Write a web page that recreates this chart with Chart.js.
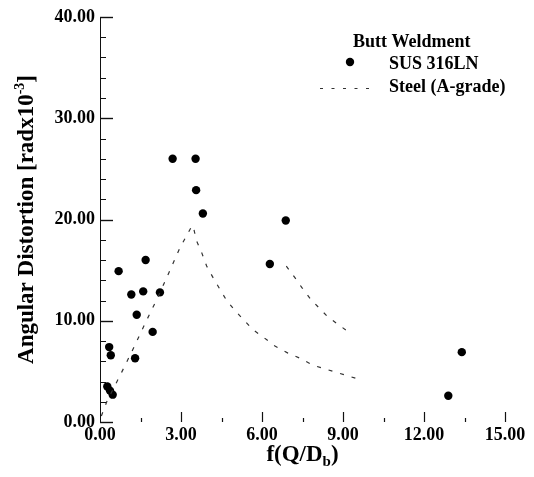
<!DOCTYPE html>
<html>
<head>
<meta charset="utf-8">
<script src="https://cdn.jsdelivr.net/npm/chart.js@4/dist/chart.umd.min.js"></script>
<style>
  html, body { margin: 0; padding: 0; background: #fff; }
  #wrap { width: 534px; height: 477px; }
</style>
</head>
<body>
<div id="wrap"><canvas id="c" width="534" height="477"></canvas></div>
<script>
var susX = [2.69, 3.54, 3.56, 3.81, 6.88, 1.69, 0.69, 6.29, 1.16, 1.60, 2.22, 1.36, 1.95, 0.34, 0.40, 1.30, 0.27, 0.37, 0.47, 13.4, 12.9];
var susY = [26.0, 26.0, 22.9, 20.6, 19.9, 16.0, 14.9, 15.6, 12.6, 12.9, 12.8, 10.6, 8.9, 7.4, 6.6, 6.3, 3.5, 3.1, 2.7, 6.9, 2.6];

// Steel (A-grade) curves
var steel1X = [0.05, 0.25, 0.80, 1.26, 1.70, 2.14, 2.56, 2.96, 3.37, 3.45, 3.56, 3.77, 3.95, 4.22, 4.69, 5.00, 5.67, 6.04, 6.48, 6.96, 7.41, 7.89, 9.74];
var steel1Y = [0.6, 2.0, 4.9, 7.4, 9.9, 12.3, 14.8, 17.2, 19.2, 19.4, 18.0, 16.7, 15.4, 14.1, 12.0, 11.0, 9.1, 8.4, 7.5, 6.8, 6.3, 5.6, 4.1];
var steel2X = [6.90, 7.26, 7.47, 7.81, 8.43, 8.89, 9.15];
var steel2Y = [15.4, 14.1, 13.3, 12.1, 10.4, 9.5, 9.0];

var xTickLabels = [0, 3, 6, 9, 12, 15];
var yTickLabels = [0, 10, 20, 30, 40];

var serif = "'Liberation Serif', 'DejaVu Serif', serif";

function pts(xs, ys) {
    return xs.map(function (x, i) { return { x: x, y: ys[i] }; });
}

// axes, inner ticks, titles and legend
var decorPlugin = {
    id: 'decor',
    afterDraw: function (chart) {
        var ctx = chart.ctx;
        var xs = chart.scales.x, ys = chart.scales.y;
        var x0 = xs.getPixelForValue(0), y0 = ys.getPixelForValue(0);
        ctx.save();
        ctx.strokeStyle = '#111';
        ctx.lineWidth = 1;
        ctx.beginPath();
        ctx.moveTo(x0 + 0.5, ys.getPixelForValue(40));
        ctx.lineTo(x0 + 0.5, y0);
        ctx.stroke();

        // y ticks, minor every 2
        for (var v = 0; v <= 40; v += 2) {
            var py = Math.round(ys.getPixelForValue(v)) + 0.5;
            var major = v % 10 === 0;
            ctx.lineWidth = major ? 1.4 : 1;
            ctx.beginPath();
            ctx.moveTo(x0, py);
            ctx.lineTo(x0 + (major ? 13 : 6), py);
            ctx.stroke();
        }
        // x ticks, minor every 1.5
        for (var i = 1; i <= 10; i++) {
            var xv = i * 1.5;
            var px = Math.round(xs.getPixelForValue(xv)) + 0.5;
            var maj = i % 2 === 0;
            ctx.lineWidth = 1.2;
            ctx.beginPath();
            ctx.moveTo(px, y0);
            ctx.lineTo(px, y0 - (maj ? 10 : 4));
            ctx.stroke();
        }

        ctx.fillStyle = '#000';
        // y title
        ctx.save();
        ctx.translate(33, (ys.top + ys.bottom) / 2);
        ctx.rotate(-Math.PI / 2);
        ctx.textBaseline = 'alphabetic';
        var main = 'Angular Distortion [radx10';
        var sup = '-3';
        var tail = ']';
        ctx.font = 'bold 23px ' + serif;
        var wMain = ctx.measureText(main).width;
        var wTail = ctx.measureText(tail).width;
        ctx.font = 'bold 14px ' + serif;
        var wSup = ctx.measureText(sup).width;
        var start = -(wMain + wSup + wTail) / 2;
        ctx.font = 'bold 23px ' + serif;
        ctx.fillText(main, start, 0);
        ctx.font = 'bold 14px ' + serif;
        ctx.fillText(sup, start + wMain, -9);
        ctx.font = 'bold 23px ' + serif;
        ctx.fillText(tail, start + wMain + wSup, 0);
        ctx.restore();

        // x title
        ctx.font = 'bold 23px ' + serif;
        var t1 = 'f(Q/D', t2 = 'b', t3 = ')';
        var w1 = ctx.measureText(t1).width, w3 = ctx.measureText(t3).width;
        ctx.font = 'bold 15px ' + serif;
        var w2 = ctx.measureText(t2).width;
        var sx = (xs.left + xs.right) / 2 - (w1 + w2 + w3) / 2;
        var by = 461;
        ctx.font = 'bold 23px ' + serif;
        ctx.fillText(t1, sx, by);
        ctx.font = 'bold 15px ' + serif;
        ctx.fillText(t2, sx + w1, by + 5);
        ctx.font = 'bold 23px ' + serif;
        ctx.fillText(t3, sx + w1 + w2, by);

        // legend
        ctx.font = 'bold 18px ' + serif;
        ctx.fillText('Butt Weldment', 353, 47);
        ctx.fillText('SUS 316LN', 389, 69);
        ctx.fillText('Steel (A-grade)', 389, 92);
        ctx.beginPath();
        ctx.arc(350, 62, 4.2, 0, Math.PI * 2);
        ctx.fill();
        ctx.strokeStyle = '#333';
        ctx.lineWidth = 1;
        ctx.setLineDash([3, 8.5]);
        ctx.beginPath();
        ctx.moveTo(320, 88.5);
        ctx.lineTo(375, 88.5);
        ctx.stroke();
        ctx.restore();
    }
};

var steelStyle = {
    showLine: true,
    borderColor: '#333',
    borderWidth: 1.2,
    borderDash: [4, 8],
    pointRadius: 0,
    fill: false,
    tension: 0
};

new Chart(document.getElementById('c'), {
    type: 'scatter',
    data: {
        datasets: [
            Object.assign({ label: 'Steel (A-grade)', data: pts(steel1X, steel1Y) }, steelStyle),
            Object.assign({ label: 'Steel (A-grade) 2', data: pts(steel2X, steel2Y) }, steelStyle),
            {
                label: 'SUS 316LN',
                data: pts(susX, susY),
                backgroundColor: '#000',
                borderColor: '#000',
                pointRadius: 4.2,
                pointBorderWidth: 0
            }
        ]
    },
    options: {
        responsive: false,
        animation: false,
        layout: { padding: { top: 17, right: 29, left: 0, bottom: 0 } },
        plugins: { legend: { display: false }, tooltip: { enabled: false } },
        scales: {
            x: {
                type: 'linear',
                min: 0, max: 15,
                afterFit: function (s) { s.height = 55; },
                afterBuildTicks: function (s) { s.ticks = xTickLabels.map(function (v) { return { value: v }; }); },
                grid: { display: false, drawTicks: false },
                border: { display: false },
                ticks: {
                    color: '#000',
                    padding: 3,
                    maxRotation: 0,
                    font: { family: serif, weight: 'bold', size: 18 },
                    callback: function (v) { return Number(v).toFixed(2); }
                }
            },
            y: {
                type: 'linear',
                min: 0, max: 40,
                afterFit: function (s) { s.width = 100; },
                afterBuildTicks: function (s) { s.ticks = yTickLabels.map(function (v) { return { value: v }; }); },
                grid: { display: false, drawTicks: false },
                border: { display: false },
                ticks: {
                    color: '#000',
                    padding: 5,
                    font: { family: serif, weight: 'bold', size: 18 },
                    callback: function (v) { return Number(v).toFixed(2); }
                }
            }
        }
    },
    plugins: [decorPlugin]
});
</script>
</body>
</html>
